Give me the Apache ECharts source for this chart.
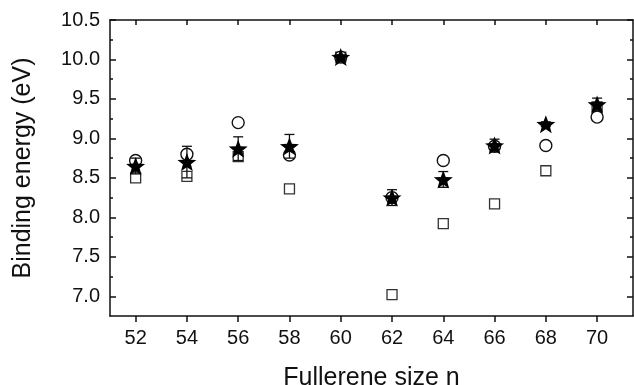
<!DOCTYPE html>
<html>
<head>
<meta charset="utf-8">
<script src="https://cdn.jsdelivr.net/npm/echarts@6/dist/echarts.min.js"></script>
<style>
html,body{margin:0;padding:0;background:#fff;}
#chartDiv{width:634px;height:385px;}
</style>
</head>
<body>
<div id="chartDiv"></div>
<script>
var sizes = [52, 54, 56, 58, 60, 62, 64, 66, 68, 70];
var starVals = [8.65, 8.70, 8.87, 8.90, 10.03, 8.25, 8.48, 8.91, 9.18, 9.43];
var starErr = [0.10, 0.20, 0.15, 0.15, 0.03, 0.10, 0.10, 0.08, 0.03, 0.08];
var circleVals = [8.72, 8.80, 9.20, 8.79, 10.03, 8.25, 8.72, 8.90, 8.91, 9.27];
var squareVals = [8.50, 8.52, 8.77, 8.36, 10.03, 7.02, 7.92, 8.17, 8.59, 9.40];
var xTicks = [52, 54, 56, 58, 60, 62, 64, 66, 68, 70];
var yMajor = [7.0, 7.5, 8.0, 8.5, 9.0, 9.5, 10.0, 10.5];
var yMinor = [7.25, 7.75, 8.25, 8.75, 9.25, 9.75, 10.25];

var starPath = 'path://M50 0 L62.34 33.01 L97.55 34.55 L69.97 56.49 L79.39 90.45 L50 71 L20.61 90.45 L30.03 56.49 L2.45 34.55 L37.66 33.01 Z';

function pairs(vals){
	var out = [];
	for (var i = 0; i < sizes.length; i++) out.push([sizes[i], vals[i]]);
	return out;
}
var errData = [];
for (var i = 0; i < sizes.length; i++) {
	errData.push([sizes[i], starVals[i] - starErr[i], starVals[i] + starErr[i]]);
}

var chart = echarts.init(document.getElementById('chartDiv'));
var axisCol = '#111';
var fnt = '"Liberation Sans", Arial, Helvetica, sans-serif';
var option = {
	animation: false,
	backgroundColor: '#fff',
	grid: {
		left: 110,
		right: 1,
		top: 20,
		bottom: 69,
		containLabel: false,
		outerBoundsMode: 'none'
	},
	xAxis: [
		{
			type: 'value',
			min: 51,
			max: 71.4,
			name: 'Fullerene size n',
			nameLocation: 'middle',
			nameGap: 50,
			nameTextStyle: { fontSize: 25, color: '#111', fontFamily: fnt },
			axisLine: { show: true, onZero: false, lineStyle: { color: axisCol, width: 1.5 } },
			axisTick: { show: true, customValues: xTicks, length: 6, inside: false, lineStyle: { color: axisCol, width: 1.5 } },
			axisLabel: { customValues: xTicks, fontSize: 20, color: '#111', fontFamily: fnt, margin: 12 },
			splitLine: { show: false }
		},
		{
			type: 'value',
			position: 'top',
			min: 51,
			max: 71.4,
			axisLine: { show: true, onZero: false, lineStyle: { color: axisCol, width: 1.5 } },
			axisTick: { show: true, customValues: xTicks, length: 5, inside: true, lineStyle: { color: axisCol, width: 1.5 } },
			axisLabel: { show: false },
			splitLine: { show: false }
		}
	],
	yAxis: [
		{
			type: 'value',
			min: 6.75,
			max: 10.5,
			name: 'Binding energy (eV)',
			nameLocation: 'middle',
			nameGap: 74,
			nameTextStyle: { fontSize: 25, color: '#111', fontFamily: fnt },
			axisLine: { show: true, onZero: false, lineStyle: { color: axisCol, width: 1.5 } },
			axisTick: { show: true, customValues: yMajor, length: 6, inside: true, lineStyle: { color: axisCol, width: 1.5 } },
			axisLabel: {
				customValues: yMajor, fontSize: 20, color: '#111', fontFamily: fnt, margin: 10,
				formatter: function (v) { return v.toFixed(1); }
			},
			splitLine: { show: false }
		},
		{
			type: 'value',
			position: 'left',
			min: 6.75,
			max: 10.5,
			axisLine: { show: false },
			axisTick: { show: true, customValues: yMinor, length: 3, inside: true, lineStyle: { color: axisCol, width: 1.5 } },
			axisLabel: { show: false },
			splitLine: { show: false }
		},
		{
			type: 'value',
			position: 'right',
			min: 6.75,
			max: 10.5,
			axisLine: { show: true, onZero: false, lineStyle: { color: axisCol, width: 1.5 } },
			axisTick: { show: true, customValues: yMajor, length: 6, inside: true, lineStyle: { color: axisCol, width: 1.5 } },
			axisLabel: { show: false },
			splitLine: { show: false }
		},
		{
			type: 'value',
			position: 'right',
			min: 6.75,
			max: 10.5,
			axisLine: { show: false },
			axisTick: { show: true, customValues: yMinor, length: 3, inside: true, lineStyle: { color: axisCol, width: 1.5 } },
			axisLabel: { show: false },
			splitLine: { show: false }
		}
	],
	series: [
		{
			name: 'square',
			type: 'scatter',
			data: pairs(squareVals),
			symbol: 'rect',
			symbolSize: 10,
			z: 2,
			itemStyle: { color: '#fff', borderColor: '#333', borderWidth: 1.3, opacity: 1 }
		},
		{
			name: 'circle',
			type: 'scatter',
			data: pairs(circleVals),
			symbol: 'circle',
			symbolSize: 12,
			z: 3,
			itemStyle: { color: '#fff', borderColor: '#111', borderWidth: 1.4, opacity: 1 }
		},
		{
			name: 'error',
			type: 'custom',
			z: 4,
			data: errData,
			renderItem: function (params, api) {
				var lo = api.coord([api.value(0), api.value(1)]);
				var hi = api.coord([api.value(0), api.value(2)]);
				var w = 5;
				var st = { stroke: '#111', lineWidth: 1.3, fill: null };
				return {
					type: 'group',
					children: [
						{ type: 'line', shape: { x1: lo[0], y1: lo[1], x2: hi[0], y2: hi[1] }, style: st },
						{ type: 'line', shape: { x1: lo[0] - w, y1: lo[1], x2: lo[0] + w, y2: lo[1] }, style: st },
						{ type: 'line', shape: { x1: hi[0] - w, y1: hi[1], x2: hi[0] + w, y2: hi[1] }, style: st }
					]
				};
			}
		},
		{
			name: 'star',
			type: 'scatter',
			data: pairs(starVals),
			symbol: starPath,
			symbolSize: [19, 18],
			z: 5,
			itemStyle: { color: '#000', opacity: 1 }
		}
	]
};
chart.setOption(option);
</script>
</body>
</html>
